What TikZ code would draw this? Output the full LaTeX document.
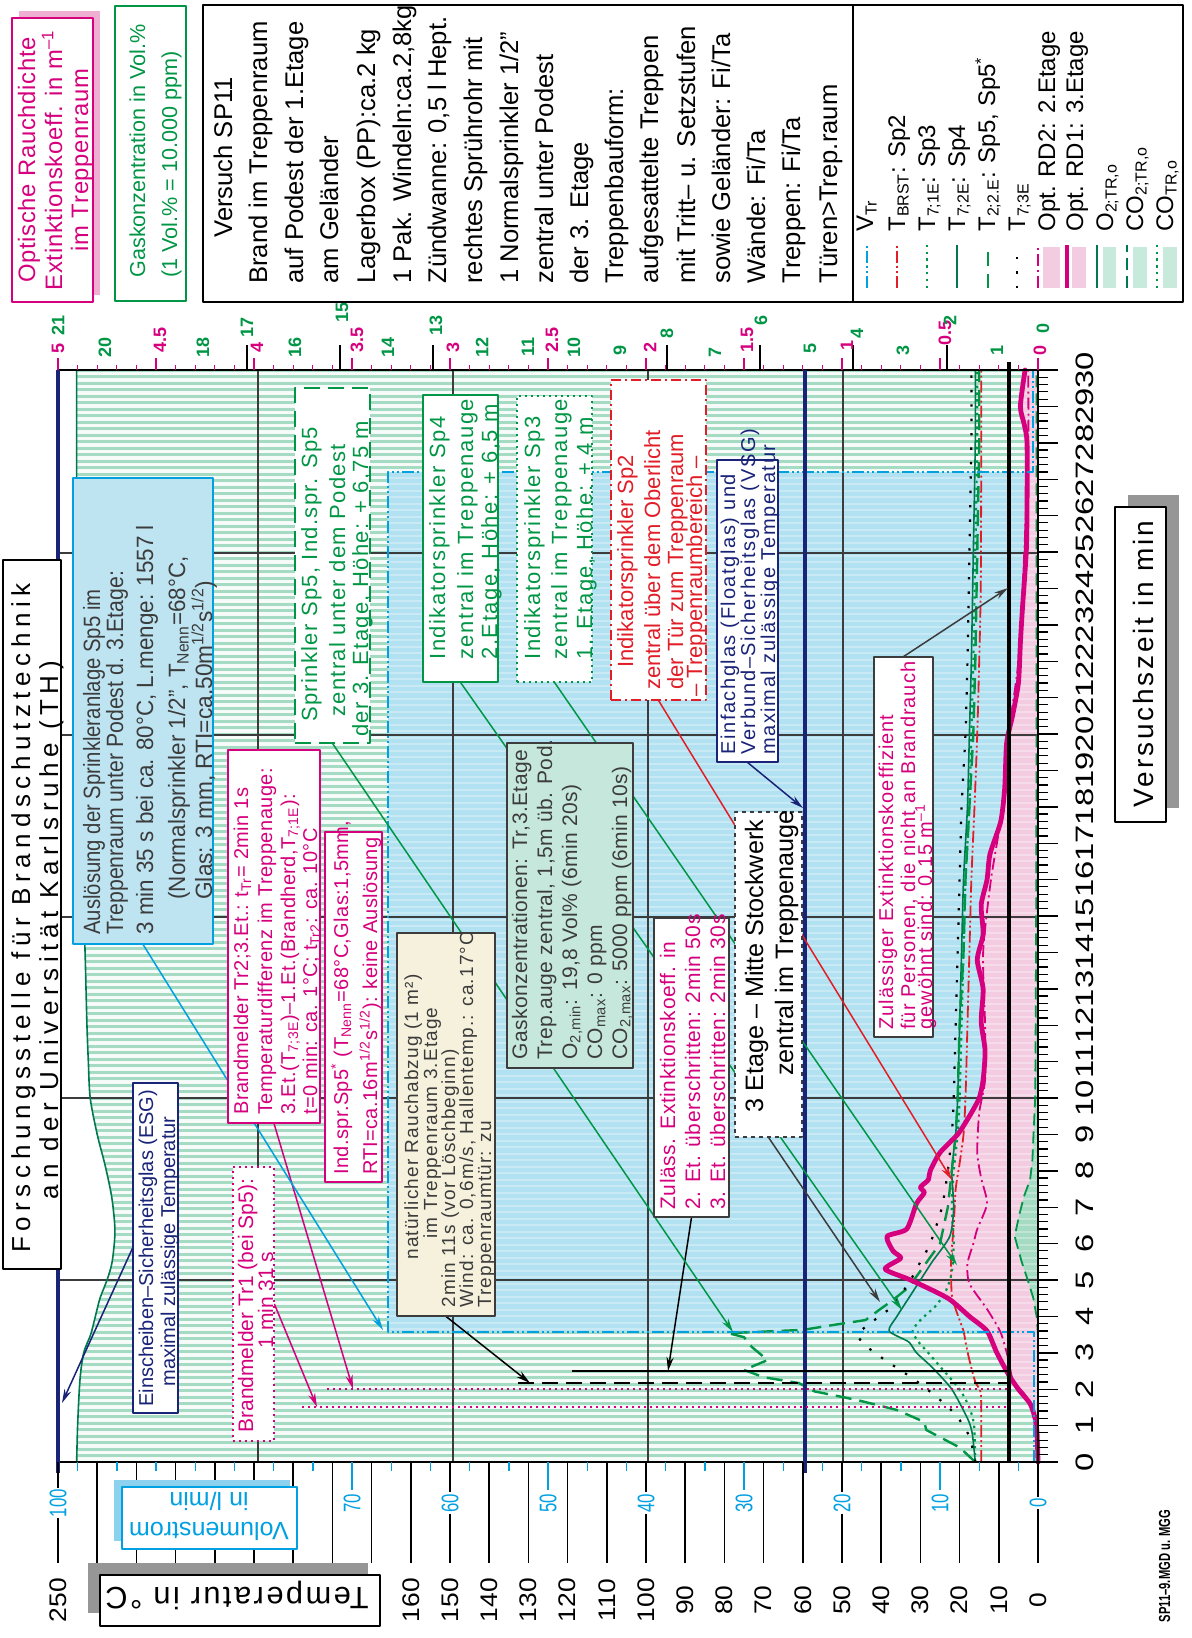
\documentclass[tikz,border=0pt]{standalone}
\usepackage{fontspec}
\setmainfont{Liberation Sans}
\usetikzlibrary{arrows.meta,calc}
\definecolor{mag}{RGB}{214,0,126}
\definecolor{grn}{RGB}{0,150,70}
\definecolor{dgrn}{RGB}{0,120,80}
\definecolor{cyn}{RGB}{0,160,225}
\definecolor{nvy}{RGB}{25,35,120}
\definecolor{rd}{RGB}{225,30,40}
\definecolor{dgr}{RGB}{60,60,60}
\definecolor{mintF}{RGB}{165,218,195}
\definecolor{mintS}{RGB}{200,234,220}
\definecolor{cyanF}{RGB}{178,225,241}
\definecolor{pinkF}{RGB}{243,204,226}
\definecolor{creamF}{RGB}{245,241,220}
\definecolor{mintB}{RGB}{198,232,220}
\definecolor{cyanB}{RGB}{190,228,242}
\definecolor{shad}{RGB}{150,150,150}
\definecolor{pshad}{RGB}{238,175,210}
\definecolor{cshad}{RGB}{140,210,238}
\newcommand\fz[2]{\fontsize{#1}{#2}\selectfont}
\newcommand\ls[1]{\addfontfeature{LetterSpace=#1}}
\newcommand\TL[5]{\node[rotate=90,inner sep=0pt,anchor=base west,#4] (#1) at (#2,#3) {#5};}
\newcommand\TC[5]{\node[rotate=90,inner sep=0pt,anchor=base,#4] (#1) at (#2,#3) {#5};}
\newcommand\BX[6]{\node[draw,inner sep=0pt,minimum width=#4pt,minimum height=#5pt,#6] (#1) at (#2,#3) {};}
\tikzset{
 tT/.style={shift={(1038,1462)},x={(0pt,18.2pt)},y={(-1.96pt,0pt)}},
 tS/.style={shift={(1038,1462)},x={(0pt,18.2pt)},y={(-98pt,0pt)}},
 tG/.style={shift={(1038,1462)},x={(0pt,18.2pt)},y={(-23.333pt,0pt)}},
 tV/.style={shift={(1038,1462)},x={(0pt,18.2pt)},y={(-4.9pt,0pt)}},
 arr/.style={line width=0.75pt,-{Stealth[length=7pt,width=3.6pt]}},
 arro/.style={line width=0.75pt,-{Stealth[length=7pt,width=3.6pt,open,fill=white]}},
 dd/.style={dash pattern=on 6pt off 1.5pt on 1pt off 1.5pt on 1pt off 1.5pt},
 da/.style={dash pattern=on 6pt off 2pt on 1pt off 2pt},
 ldsh/.style={dash pattern=on 8pt off 4pt},
 dts/.style={dash pattern=on 1.2pt off 2.2pt},
 sdts/.style={dash pattern=on 1.2pt off 6pt},
}
\begin{document}
\begin{tikzpicture}[x=0.5pt,y=-0.5pt,line join=round]
\useasboundingbox (0,0) rectangle (1192,1638);

% ---------- area fills
\begin{scope}[tG]
\fill[mintF] plot[smooth,tension=0.5] coordinates {(0,20.6) (1,20.58) (2.25,20.53) (3,20.45) (3.5,20.3) (4,20.2) (4.5,20.1) (5,19.95) (5.5,19.84) (6.3,19.78) (7,19.82) (7.5,19.88) (8.2,20.0) (9,20.16) (10,20.31) (11,20.35) (12,20.38) (14,20.42) (16,20.47) (18,20.5) (20,20.56) (22,20.58) (25,20.6) (30,20.6)} -- (30,0) -- (0,0) -- cycle;
\end{scope}
\foreach \k in {0,...,167} \draw[white,opacity=0.88,line width=1.7pt] (60,{1459-6.5*\k}) -- (1037,{1459-6.5*\k});
\begin{scope}[tV]
\fill[cyanF] (3.58,0) rectangle (27.2,66.3);
\end{scope}
\begin{scope}[tS]
\fill[pinkF] plot[smooth,tension=0.4] coordinates {(0,0) (0.8,0.005) (1.2,0.015) (1.6,0.04) (2,0.1) (2.4,0.15) (3,0.21) (3.6,0.26) (4,0.35) (4.5,0.46) (5,0.65) (5.3,0.78) (5.6,0.70) (5.8,0.74) (6.2,0.77) (6.4,0.67) (7.1,0.62) (7.4,0.58) (7.55,0.60) (7.75,0.56) (8.0,0.55) (8.5,0.50) (9,0.41) (9.5,0.35) (10,0.30) (10.5,0.28) (11.3,0.27) (12.1,0.29) (13,0.28) (13.8,0.31) (14.5,0.28) (15.3,0.29) (16,0.26) (16.7,0.245) (17.6,0.19) (18.5,0.17) (19.75,0.16) (20.5,0.13) (21.4,0.10) (22.5,0.09) (23.4,0.08) (25,0.06) (26.2,0.056) (28,0.056) (28.5,0.07) (29,0.09) (30,0.066)} -- (30,0) -- (0,0) -- cycle;
\end{scope}
\begin{scope}[tG]
\fill[mintF] plot coordinates {(0,0) (3.5,0) (4,0.03) (4.5,0.1) (5,0.22) (5.5,0.35) (6.2,0.5) (6.8,0.4) (7.3,0.3) (7.75,0.17) (8.3,0.12) (8.9,0.1) (10,0.06) (12,0.05) (15,0.04) (20,0.03) (30,0.03)} -- (30,0) -- cycle;
\end{scope}
\foreach \k in {0,...,167} \draw[white,opacity=0.3,line width=1pt] (60,{1459-6.5*\k}) -- (1037,{1459-6.5*\k});

% ---------- grid
\foreach \x in {843,648,453,258} \draw[dgr,line width=0.6pt] (\x,370) -- (\x,1462);
\foreach \y in {1280,1098,917,735,553} \draw[dgr,line width=0.6pt] (58,\y) -- (1038,\y);

% ---------- curves
\begin{scope}[tT]
\draw[rd,line width=0.9pt,dd] plot[smooth,tension=0.4] coordinates {(0,14.5) (1,14.5) (1.9,14.6) (2.2,16) (2.8,17.5) (3.3,18.5) (3.6,19) (4.2,21) (4.6,22) (5.5,22.2) (6.5,21.5) (7.5,21) (8.2,20) (9,19) (10,18.5) (12,18) (14,17.5) (16,17) (18,16.2) (20,15.5) (22,15) (24,14.6) (27,14.5) (30,14.5)};
\draw[grn,line width=1.1pt,dts] plot[smooth,tension=0.4] coordinates {(0,16) (1,16.3) (1.5,17.5) (2,20) (2.5,24) (3,28) (3.3,30.5) (3.6,32) (3.9,30) (4.3,26) (4.7,23.5) (5.2,22) (6,21.5) (7,22) (8,21.5) (9,20.5) (10,20) (12,19.5) (14,19) (16,18.5) (18,17.5) (20,17) (22,16.5) (25,16) (28,15.5) (30,15.5)};
\draw[dgrn,line width=0.8pt] plot[smooth,tension=0.4] coordinates {(0,16) (0.8,16.8) (1.2,18) (2,22) (2.6,27) (3,31) (3.3,33) (3.6,38) (4,36) (4.5,33) (5,30) (5.5,27) (6.2,22.5) (7,21.5) (8,22) (9,21) (10,20.5) (12,20) (14,19.5) (16,19) (18,18) (20,17.5) (22,17) (25,16.5) (28,16) (30,16)};
\draw[grn,line width=1.2pt,ldsh] plot coordinates {(0,16) (0.4,20) (0.88,28.5) (1.1,29) (1.43,36) (1.7,46) (1.94,57) (2.17,61) (2.33,70) (2.53,75) (2.8,69) (3.16,73) (3.43,75) (3.54,79) (3.63,60) (3.76,52.5) (3.9,44) (4.18,40.5) (4.45,37) (4.8,33) (5.55,28) (6,25) (7,23) (8,22) (9,21) (10,20.5) (12,20) (14,19) (16,18.5) (18,17.5) (20,16.5) (22,16) (25,15.5) (28,15) (30,15)};
\draw[black,line width=1.1pt,sdts] plot[smooth,tension=0.4] coordinates {(0,16) (0.7,17.5) (1.3,21) (1.8,26) (2.3,32) (2.8,39) (3.2,44) (3.5,46) (3.8,43) (4.2,38) (4.6,35) (5,32.5) (5.5,30) (6,27.5) (7,24.5) (8,23) (9,22) (10,21.5) (12,21) (14,20.5) (16,20) (18,19.5) (20,18.5) (22,18) (25,17.5) (28,17) (30,17)};
\end{scope}
\begin{scope}[tS]
\draw[mag,line width=0.9pt,da] plot[smooth,tension=0.4] coordinates {(0,0) (1.2,0.01) (1.8,0.06) (2.25,0.128) (2.8,0.15) (3.55,0.19) (4.2,0.26) (4.9,0.35) (5.45,0.36) (6,0.33) (6.4,0.31) (7.1,0.26) (7.8,0.29) (8.5,0.31) (9.6,0.30) (10.5,0.27) (12,0.27) (14,0.28) (16,0.24) (18,0.18) (20,0.15) (22,0.1) (25,0.07) (28,0.05) (30,0.05)};
\draw[mag,line width=2.4pt,line cap=round] plot[smooth,tension=0.4] coordinates {(0,0) (0.8,0.005) (1.2,0.015) (1.6,0.04) (2,0.1) (2.4,0.15) (3,0.21) (3.6,0.26) (4,0.35) (4.5,0.46) (5,0.65) (5.3,0.78) (5.6,0.70) (5.8,0.74) (6.2,0.77) (6.4,0.67) (7.1,0.62) (7.4,0.58) (7.55,0.60) (7.75,0.56) (8.0,0.55) (8.5,0.50) (9,0.41) (9.5,0.35) (10,0.30) (10.5,0.28) (11.3,0.27) (12.1,0.29) (13,0.28) (13.8,0.31) (14.5,0.28) (15.3,0.29) (16,0.26) (16.7,0.245) (17.6,0.19) (18.5,0.17) (19.75,0.16) (20.5,0.13) (21.4,0.10) (22.5,0.09) (23.4,0.08) (25,0.06) (26.2,0.056) (28,0.056) (28.5,0.07) (29,0.09) (30,0.066)};
\end{scope}
\begin{scope}[tG]
\draw[dgrn,line width=0.8pt] plot[smooth,tension=0.5] coordinates {(0,20.6) (1,20.58) (2.25,20.53) (3,20.45) (3.5,20.3) (4,20.2) (4.5,20.1) (5,19.95) (5.5,19.84) (6.3,19.78) (7,19.82) (7.5,19.88) (8.2,20.0) (9,20.16) (10,20.31) (11,20.35) (12,20.38) (14,20.42) (16,20.47) (18,20.5) (20,20.56) (22,20.58) (25,20.6) (30,20.6)};
\draw[grn,line width=0.9pt,dash pattern=on 6pt off 3pt] plot coordinates {(0,0) (3.5,0) (4,0.03) (4.5,0.1) (5,0.22) (5.5,0.35) (6.2,0.5) (6.8,0.4) (7.3,0.3) (7.75,0.17) (8.3,0.12) (8.9,0.1) (10,0.06) (12,0.05) (15,0.04) (20,0.03) (30,0.03)};
\end{scope}
\begin{scope}[tV]
\draw[cyn,line width=1.1pt,dd] (0,0.4) -- (3.58,0.4) -- (3.58,66.3) -- (27.2,66.3) -- (27.2,0.5) -- (30,0.5);
\end{scope}

% ---------- frame and special lines
\draw[line width=1pt] (58,370) -- (1038,370);
\draw[line width=1.2pt] (58,1462) -- (1038,1462);
\draw[line width=1.2pt] (1038,370) -- (1038,1462);
\draw[nvy,line width=2.3pt] (58,370) -- (58,1473);
\draw[nvy,line width=2.3pt] (805,370) -- (805,1473);
\draw[line width=2pt] (1009,362) -- (1009,1462);
\draw[mag,line width=0.8pt,dash pattern=on 1pt off 2pt] (327,1389) -- (1009,1389);
\draw[mag,line width=0.8pt,dash pattern=on 1pt off 2pt] (302,1407) -- (1009,1407);
\draw[line width=0.9pt,dash pattern=on 8pt off 4pt] (518,1383) -- (1009,1383);
\draw[line width=0.6pt] (572,1371) -- (1009,1371);

% ---------- axes ticks
\foreach \k in {0,...,150} \draw[line width=0.6pt] (1038,{1462-7.28*\k}) -- (1048,{1462-7.28*\k});
\foreach \k in {0,...,30} \draw[line width=0.7pt] (1038,{1462-36.4*\k}) -- (1058,{1462-36.4*\k});
\foreach \k in {0,...,50} \draw[mag,line width=0.6pt] ({1038-19.6*\k},370) -- ({1038-19.6*\k},365);
\foreach \k in {0,...,10} \draw[mag,line width=0.7pt] ({1038-98*\k},370) -- ({1038-98*\k},358);
\foreach \x in {247,340,433,667,760,853,947} \draw[line width=0.8pt] (\x,345) -- (\x,370);
\foreach \k in {0,...,50} \draw[cyn,line width=0.7pt] ({1038-19.6*\k},1462) -- ({1038-19.6*\k},1471);
\foreach \v in {70,50,30,10} \draw[cyn,line width=0.8pt] ({1038-9.8*\v},1462) -- ({1038-9.8*\v},1490);
\foreach \k in {0,...,25} \draw[line width=0.8pt] ({1038-39.2*\k},1462) -- ({1038-39.2*\k},1563);

% ---------- axis labels
\foreach \t in {0,...,30} \node[rotate=90,font=\fz{12.6}{13},xscale=1.3,inner sep=0pt] (tl\t) at (1085,{1462-36.4*\t}) {\t};
\foreach \v in {0,10,...,160} \node[rotate=90,font=\fz{12}{13},xscale=1.1,inner sep=0pt] (Tl\v) at ({1038-3.92*\v},1600) {\v};
\node[rotate=90,font=\fz{12}{13},xscale=1.1,inner sep=0pt] (Tl250) at (58,1600) {250};
\foreach \v in {100,70,60,50,40,30,20,10,0} \node[rotate=90,font=\fz{12}{13},xscale=0.7,text=cyn,fill=white,inner sep=1pt] (vl\v) at ({1038-9.8*\v},1503) {\v};
\foreach \x/\y/\s [count=\i] in {58/348/5, 160/340/4.5, 257/347/4, 357/340/3.5, 453/347/3, 552/340/2.5, 650/347/2, 747/340/1.5, 847/345/1, 945/333/0.5, 1040/350/0}
  \node[rotate=90,font=\fz{9}{10}\bfseries,text=mag,inner sep=0pt] (ml\i) at (\x,\y) {\s};
\foreach \x/\y/\s [count=\i] in {58/325/21, 105/347/20, 203/347/18, 247/327/17, 295/347/16, 342/312/15, 388/347/14, 436/325/13, 482/347/12, 528/347/11, 574/347/10, 620/350/9, 667/333/8, 715/352/7, 761/320/6, 810/348/5, 857/333/4, 903/350/3, 950/320/2, 997/350/1, 1043/328/0}
  \node[rotate=90,font=\fz{9}{10}\bfseries,text=grn,inner sep=0pt] (gl\i) at (\x,\y) {\s};

% ---------- connector targets
\coordinate (aQ) at (62,1403);
\coordinate (aR) at (317,1407);
\coordinate (aF) at (353,1389);
\coordinate (aE) at (383,1330);
\coordinate (aH) at (530,1383);
\coordinate (aJ) at (668,1371);
\coordinate (aO) at (733,1332);
\coordinate (aL) at (902,1310);
\coordinate (aM) at (957,1265);
\coordinate (aN) at (952,1180);
\coordinate (aP) at (803,808);
\coordinate (aS) at (1008,588);
\coordinate (aK) at (880,1302);

% ---------- box outlines (named) for the connectors
\path node[inner sep=0pt,minimum width=70pt,minimum height=233pt] (bE) at (143,711) {}
      node[inner sep=0pt,minimum width=46pt,minimum height=186.5pt] (bF) at (274,936.5) {}
      node[inner sep=0pt,minimum width=49pt,minimum height=191.5pt] (bH) at (446,1124.5) {}
      node[inner sep=0pt,minimum width=37.5pt,minimum height=149.5pt] (bJ) at (691.5,1067.5) {}
      node[inner sep=0pt,minimum width=33.5pt,minimum height=162.5pt] (bK) at (768.5,974.5) {}
      node[inner sep=0pt,minimum width=37.5pt,minimum height=143.5pt] (bL) at (460.5,538.5) {}
      node[inner sep=0pt,minimum width=37.5pt,minimum height=143pt] (bM) at (554.5,539) {}
      node[inner sep=0pt,minimum width=47.5pt,minimum height=160pt] (bN) at (658.5,540) {}
      node[inner sep=0pt,minimum width=37.5pt,minimum height=177.5pt] (bO) at (332.5,565.5) {}
      node[inner sep=0pt,minimum width=30.5pt,minimum height=151pt] (bP) at (747.5,611) {}
      node[inner sep=0pt,minimum width=22.5pt,minimum height=165pt] (bQ) at (155.5,1248) {}
      node[inner sep=0pt,minimum width=20.5pt,minimum height=137pt] (bR) at (253.5,1304) {}
      node[inner sep=0pt,minimum width=29.5pt,minimum height=190pt] (bS) at (903.5,847) {};

% ---------- connectors (behind the boxes)
\draw[arr,nvy] (bQ.west) -- (aQ);
\draw[arro,mag] (bR.east) -- (aR);
\draw[arro,mag] (bF.south) -- (aF);
\draw[arro,cyn] (bE.south) -- (aE);
\draw[arro,black] (bH.south) -- (aH);
\draw[arro,black] (bJ.south) -- (aJ);
\draw[arr,grn] (bO.south) -- (aO);
\draw[arr,grn] (bL.south) -- (aL);
\draw[arr,grn] (bM.south) -- (aM);
\draw[arr,rd] (bN.south) -- (aN);
\draw[arr,nvy] (bP.south) -- (aP);
\draw[arr,dgr] (bS.north) -- (aS);
\draw[arr,dgr] (bK.south) -- (aK);

% ---------- boxes drawn over the connectors
\BX{tbox}{32}{914.5}{29}{354.5}{fill=white,line width=1pt}
\fill[pshad] (19,11) rectangle (100,295);
\BX{pbox}{52.5}{160}{40.5}{142}{fill=white,draw=mag,line width=1pt}
\BX{gbox}{150.5}{153.5}{35.5}{147.5}{fill=white,draw=grn,line width=1pt}
\BX{lbox}{693}{153.5}{490}{148.5}{fill=white,line width=1pt}
\draw[line width=1pt] (853,5) -- (853,302);
\BX{fE}{143}{711}{70}{233}{fill=cyanB,draw=cyn,line width=1pt}
\BX{fF}{274}{936.5}{46}{186.5}{fill=white,draw=mag,line width=1pt}
\BX{fG}{353.5}{1007}{28.5}{175}{fill=white,draw=mag,line width=1pt}
\BX{fH}{446}{1124.5}{49}{191.5}{fill=creamF,draw=dgr,line width=1pt}
\BX{fI}{570}{905.5}{63}{162.5}{fill=mintB,draw=dgr,line width=1.1pt}
\BX{fJ}{691.5}{1067.5}{37.5}{149.5}{fill=white,draw=dgr,line width=0.9pt}
\BX{fK}{768.5}{974.5}{33.5}{162.5}{fill=white,draw=dgr,line width=0.9pt,dash pattern=on 2pt off 2pt}
\BX{fL}{460.5}{538.5}{37.5}{143.5}{fill=white,draw=grn,line width=1pt}
\BX{fM}{554.5}{539}{37.5}{143}{fill=white,draw=grn,line width=1.1pt,dash pattern=on 1pt off 2pt}
\BX{fN}{658.5}{540}{47.5}{160}{fill=white,draw=rd,line width=1.1pt,dash pattern=on 5pt off 2pt on 1pt off 2pt}
\BX{fO}{332.5}{565.5}{37.5}{177.5}{fill=white,draw=grn,line width=1.1pt,dash pattern=on 8pt off 4pt}
\BX{fP}{747.5}{611}{30.5}{151}{fill=white,draw=nvy,line width=1pt}
\BX{fQ}{155.5}{1248}{22.5}{165}{fill=white,draw=nvy,line width=1pt}
\BX{fR}{253.5}{1304}{20.5}{137}{fill=white,draw=mag,line width=1pt,dash pattern=on 1pt off 2pt}
\BX{fS}{903.5}{847}{29.5}{190}{fill=white,draw=dgr,line width=1pt}
\fill[shad] (88,1563) rectangle (368,1613);
\BX{bTT}{240}{1600.5}{140}{25.5}{fill=white,line width=1pt}
\fill[cshad] (114,1480) rectangle (290,1541);
\BX{bVB}{209.5}{1518}{87.5}{31}{fill=white,draw=cyn,line width=1pt}
\fill[shad] (1128,495) rectangle (1179,808);
\BX{bVZ}{1140.5}{664.5}{25.5}{157.5}{fill=white,line width=1pt}

% ---------- texts
\TC{t1}{30}{918}{font=\fz{13}{14}\ls{21.5}}{Forschungsstelle für Brandschutztechnik}
\TC{t2}{58}{930}{font=\fz{13}{14}\ls{21.5}}{an der Universität Karlsruhe (TH)}

\TC{b1}{35}{160}{font=\fz{11.9}{13}\ls{3},text=mag}{Optische Rauchdichte}
\TC{b2}{62}{160}{font=\fz{11.9}{13}\ls{3},text=mag}{Extinktionskoeff. in m\textsuperscript{–1}}
\TC{b3}{88}{160}{font=\fz{11.9}{13}\ls{3},text=mag}{im Treppenraum}
\TL{c1}{145}{278}{font=\fz{10.8}{12},text=grn}{Gaskonzentration in Vol.\%}
\TL{c2}{177}{278}{font=\fz{10.8}{12},text=grn}{(1 Vol.\% = 10.000 ppm)}

\TL{lg1}{232}{238}{font=\fz{12.8}{14}}{Versuch SP11}
\TL{lg2}{267}{284}{font=\fz{12.8}{14}}{Brand im Treppenraum}
\TL{lg3}{303}{284}{font=\fz{12.8}{14}}{auf Podest der 1.Etage}
\TL{lg4}{338}{284}{font=\fz{12.8}{14}}{am Geländer}
\TL{lg5}{375}{284}{font=\fz{12.8}{14}}{Lagerbox (PP):ca.2 kg}
\TL{lg6}{411}{284}{font=\fz{12.8}{14}}{1 Pak. Windeln:ca.2,8kg}
\TL{lg7}{446}{284}{font=\fz{12.8}{14}}{Zündwanne: 0,5 l Hept.}
\TL{lg8}{482}{284}{font=\fz{12.8}{14}}{rechtes Sprührohr mit}
\TL{lg9}{518}{284}{font=\fz{12.8}{14}}{1 Normalsprinkler 1/2"}
\TL{lg10}{553}{284}{font=\fz{12.8}{14}}{zentral unter Podest}
\TL{lg11}{588}{284}{font=\fz{12.8}{14}}{der 3. Etage}
\TL{lg12}{623}{284}{font=\fz{12.8}{14}}{Treppenbauform:}
\TL{lg13}{658}{284}{font=\fz{12.8}{14}}{aufgesattelte Treppen}
\TL{lg14}{695}{284}{font=\fz{12.8}{14}}{mit Tritt– u. Setzstufen}
\TL{lg15}{730}{284}{font=\fz{12.8}{14}}{sowie Geländer: Fi/Ta}
\TL{lg16}{765}{284}{font=\fz{12.8}{14}}{Wände: Fi/Ta}
\TL{lg17}{800}{284}{font=\fz{12.8}{14}}{Treppen: Fi/Ta}
\TL{lg18}{837}{284}{font=\fz{12.8}{14}}{Türen>Trep.raum}

% legend symbols
\draw[cyn,line width=1pt,dd] (867,288) -- (867,245);
\draw[rd,line width=1pt,dd] (897,288) -- (897,245);
\draw[grn,line width=1.1pt,dts] (927,288) -- (927,245);
\draw[dgrn,line width=0.9pt] (957,288) -- (957,245);
\draw[grn,line width=1.2pt,dash pattern=on 7pt off 4pt] (988,288) -- (988,245);
\draw[line width=1.1pt,sdts] (1017,288) -- (1017,245);
\fill[pinkF] (1043,247) rectangle (1060,288);
\draw[mag,line width=1pt,da] (1038,288) -- (1038,245);
\fill[pinkF] (1072,247) rectangle (1086,288);
\draw[mag,line width=2.2pt] (1067,288) -- (1067,245);
\fill[mintS] (1103,247) rectangle (1116,288);
\draw[dgrn,line width=0.9pt] (1097,288) -- (1097,245);
\fill[mintS] (1133,247) rectangle (1147,288);
\draw[dgrn,line width=0.9pt,dash pattern=on 6pt off 3pt] (1127,288) -- (1127,245);
\fill[mintS] (1163,247) rectangle (1177,288);
\draw[grn,line width=1pt,dts] (1157,288) -- (1157,245);
\TL{ls1}{873}{232}{font=\fz{12}{13}}{V\textsubscript{Tr}}
\TL{ls2}{905}{232}{font=\fz{12}{13}}{T\textsubscript{BRST}: Sp2}
\TL{ls3}{935}{232}{font=\fz{12}{13}}{T\textsubscript{7;1E}: Sp3}
\TL{ls4}{965}{232}{font=\fz{12}{13}}{T\textsubscript{7;2E}: Sp4}
\TL{ls5}{995}{232}{font=\fz{12}{13}}{T\textsubscript{2;2.E}: Sp5, Sp5\textsuperscript{*}}
\TL{ls6}{1025}{232}{font=\fz{12}{13}}{T\textsubscript{7;3E}}
\TL{ls7}{1055}{232}{font=\fz{12}{13}}{Opt. RD2: 2.Etage}
\TL{ls8}{1083}{232}{font=\fz{12}{13}}{Opt. RD1: 3.Etage}
\TL{ls9}{1113}{232}{font=\fz{12}{13}}{O\textsubscript{2;TR,o}}
\TL{ls10}{1143}{232}{font=\fz{12}{13}}{CO\textsubscript{2;TR,o}}
\TL{ls11}{1173}{232}{font=\fz{12}{13}}{CO\textsubscript{TR,o}}

% E
\TL{e1}{100}{935}{font=\fz{11.8}{13},text=dgr,xscale=0.86}{Auslösung der Sprinkleranlage Sp5 im}
\TL{e2}{123}{935}{font=\fz{11.8}{13},text=dgr,xscale=0.9}{Treppenraum unter Podest d. 3.Etage:}
\TL{e3}{153}{935}{font=\fz{11.8}{13},text=dgr,xscale=0.95}{3 min 35 s bei ca. 80°C, L.menge: 1557 l}
\TL{e4}{185}{900}{font=\fz{11.8}{13},text=dgr,xscale=0.95}{(Normalsprinkler 1/2", T\textsubscript{Nenn}=68°C,}
\TL{e5}{212}{900}{font=\fz{11.8}{13},text=dgr,xscale=0.96}{Glas: 3 mm, RTI=ca.50m\textsuperscript{1/2}s\textsuperscript{1/2})}
% F
\TL{f1}{248}{1115}{font=\fz{10}{11}\ls{2},text=mag}{Brandmelder Tr2;3.Et.: t\textsubscript{Tr}= 2min 1s}
\TL{f2}{272}{1115}{font=\fz{10}{11}\ls{2},text=mag}{Temperaturdifferenz im Treppenauge:}
\TL{f3}{295}{1115}{font=\fz{10}{11}\ls{2},text=mag}{3.Et.(T\textsubscript{7;3E})–1.Et.(Brandherd,T\textsubscript{7;1E}):}
\TL{f4}{317}{1115}{font=\fz{10}{11}\ls{2},text=mag}{t=0 min: ca. 1°C; t\textsubscript{Tr2}: ca. 10°C}
% G
\TL{g1}{348}{1175}{font=\fz{10}{11}\ls{2},text=mag}{Ind.spr.Sp5\textsuperscript{*} (T\textsubscript{Nenn}=68°C,Glas:1,5mm,}
\TL{g2}{377}{1175}{font=\fz{10}{11}\ls{2},text=mag}{RTI=ca.16m\textsuperscript{1/2}s\textsuperscript{1/2}): keine Auslösung}
% H
\TC{h1}{418}{1117}{font=\fz{9.5}{10}\ls{6},text=dgr}{natürlicher Rauchabzug (1 m²)}
\TC{h2}{437}{1123}{font=\fz{9.5}{10}\ls{6},text=dgr}{im Treppenraum 3.Etage}
\TL{h3}{455}{1308}{font=\fz{9.5}{10}\ls{6},text=dgr}{2min 11s (vor Löschbeginn)}
\TL{h4}{473}{1308}{font=\fz{9.5}{10}\ls{6},text=dgr}{Wind: ca. 0,6m/s, Hallentemp.: ca.17°C}
\TL{h5}{491}{1308}{font=\fz{9.5}{10}\ls{6},text=dgr}{Treppenraumtür: zu}
% I
\TL{i1}{527}{1060}{font=\fz{10.5}{11}\ls{2},text=dgr}{Gaskonzentrationen: Tr,3.Etage}
\TL{i2}{552}{1060}{font=\fz{10.5}{11}\ls{2},text=dgr}{Trep.auge zentral, 1,5m üb. Pod.}
\TL{i3}{577}{1060}{font=\fz{10.5}{11}\ls{2},text=dgr}{O\textsubscript{2,min}: 19,8 Vol\% (6min 20s)}
\TL{i4}{602}{1060}{font=\fz{10.5}{11}\ls{2},text=dgr}{CO\textsubscript{max}: 0 ppm}
\TL{i5}{627}{1060}{font=\fz{10.5}{11}\ls{2},text=dgr}{CO\textsubscript{2,max}: 5000 ppm (6min 10s)}
% J
\TL{j1}{675}{1210}{font=\fz{10.5}{11}\ls{3},text=mag}{Zuläss. Extinktionskoeff. in}
\TL{j2}{700}{1210}{font=\fz{10.5}{11}\ls{3},text=mag}{2. Et. überschritten: 2min 50s}
\TL{j3}{725}{1210}{font=\fz{10.5}{11}\ls{3},text=mag}{3. Et. überschritten: 2min 30s}
% K
\TL{k1}{763}{1113}{font=\fz{12.6}{13}}{3 Etage – Mitte Stockwerk}
\TL{k2}{793}{1076}{font=\fz{12.6}{13}}{zentral im Treppenauge}
% L
\TL{l1}{445}{660}{font=\fz{11}{12}\ls{7},text=grn}{Indikatorsprinkler Sp4}
\TL{l2}{473}{660}{font=\fz{11}{12}\ls{7},text=grn}{zentral im Treppenauge}
\TL{l3}{497}{660}{font=\fz{11}{12}\ls{7},text=grn}{2.Etage, Höhe: + 6,5 m}
% M
\TL{m1}{540}{660}{font=\fz{11}{12}\ls{7},text=grn}{Indikatorsprinkler Sp3}
\TL{m2}{567}{660}{font=\fz{11}{12}\ls{7},text=grn}{zentral im Treppenauge}
\TL{m3}{592}{660}{font=\fz{11}{12}\ls{7},text=grn}{1. Etage, Höhe: + 4 m}
% N
\TL{n1}{633}{668}{font=\fz{11}{12},text=rd}{Indikatorsprinkler Sp2}
\TL{n2}{660}{690}{font=\fz{11}{12},text=rd}{zentral über dem Oberlicht}
\TL{n3}{683}{690}{font=\fz{11}{12},text=rd}{der Tür zum Treppenraum}
\TL{n4}{702}{697}{font=\fz{11}{12},text=rd}{– Treppenraumbereich –}
% O
\TL{o1}{317}{722}{font=\fz{11}{12}\ls{6},text=grn}{Sprinkler Sp5, Ind.spr. Sp5}
\TL{o2}{345}{717}{font=\fz{11}{12}\ls{6},text=grn}{zentral unter dem Podest}
\TL{o3}{368}{737}{font=\fz{11}{12}\ls{6},text=grn}{der 3. Etage, Höhe: + 6,75 m}
% P
\TL{p1}{735}{755}{font=\fz{10}{11}\ls{8},text=nvy}{Einfachglas (Floatglas) und}
\TL{p2}{755}{755}{font=\fz{10}{11}\ls{8},text=nvy}{Verbund–Sicherheitsglas (VSG)}
\TL{p3}{775}{755}{font=\fz{10}{11}\ls{8},text=nvy}{maximal zulässige Temperatur}
% Q
\TL{q1}{153}{1407}{font=\fz{10}{11},text=nvy}{Einscheiben–Sicherheitsglas (ESG)}
\TL{q2}{175}{1387}{font=\fz{10}{11},text=nvy}{maximal zulässige Temperatur}
% R
\TL{r1}{253}{1433}{font=\fz{10.5}{11},text=mag}{Brandmelder Tr1 (bei Sp5):}
\TC{r2}{273}{1300}{font=\fz{10.5}{11},text=mag}{1 min 31 s}
% S
\TL{s1}{893}{1030}{font=\fz{10}{11}\ls{5},text=mag}{Zulässiger Extinktionskoeffizient}
\TL{s2}{915}{1030}{font=\fz{10}{11}\ls{5},text=mag}{für Personen, die nicht an Brandrauch}
\TL{s3}{932}{1030}{font=\fz{10}{11}\ls{5},text=mag}{gewöhnt sind: 0,15 m\textsuperscript{–1}}
% axis titles
\TC{vz}{1153}{664}{font=\fz{14}{15}\ls{10}}{Versuchszeit in min}
\node[rotate=180,inner sep=0pt,anchor=base,font=\fz{15.4}{16}\ls{8}] (tt) at (237,1587) {Temperatur in °C};
\node[rotate=180,inner sep=0pt,anchor=base,font=\fz{12.5}{13},text=cyn] (vb1) at (209,1522) {Volumenstrom};
\node[rotate=180,inner sep=0pt,anchor=base,font=\fz{12.5}{13},text=cyn] (vb2) at (209,1492) {in l/min};
\TC{sig}{1170}{1566}{font=\fz{8}{9}\bfseries,xscale=0.7}{SP11–9.MGD u. MGG}
\end{tikzpicture}
\end{document}
